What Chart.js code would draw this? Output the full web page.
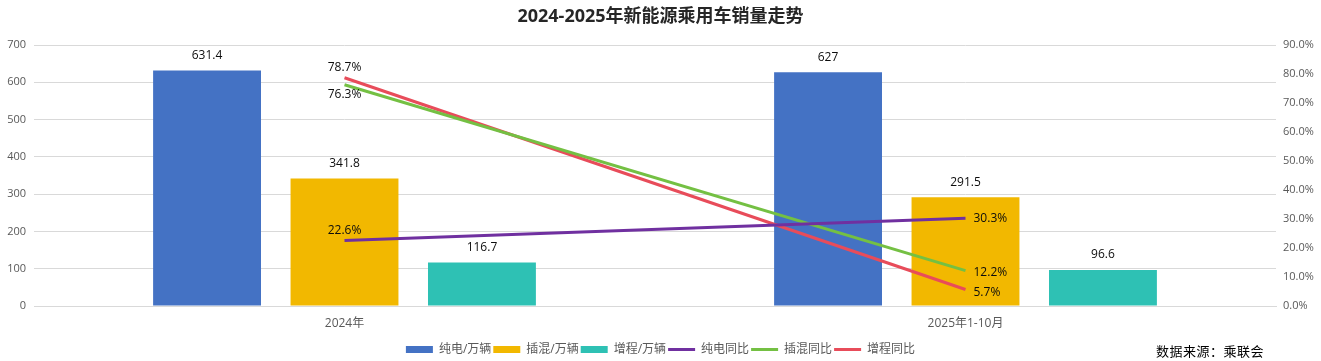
<!DOCTYPE html>
<html>
<head>
<meta charset="utf-8">
<script src="https://cdn.jsdelivr.net/npm/chart.js@4.4.1/dist/chart.umd.min.js"></script>
<style>
  html, body { margin: 0; padding: 0; background: #ffffff; }
  #wrap { width: 1321px; height: 361px; position: relative; }
</style>
</head>
<body>
<div id="wrap"><canvas id="c" width="1321" height="361"></canvas></div>
<script>
// ---- data ----
const categories = ['2024年', '2025年1-10月'];
const bevSales = [631.4, 627];      // 纯电/万辆
const phevSales = [341.8, 291.5];   // 插混/万辆
const erevSales = [116.7, 96.6];    // 增程/万辆
const bevYoY = [22.6, 30.3];        // 纯电同比 (%)
const phevYoY = [76.3, 12.2];       // 插混同比 (%)
const erevYoY = [78.7, 5.7];        // 增程同比 (%)
const titleText = '2024-2025年新能源乘用车销量走势';
const sourceText = '数据来源：乘联会';

const FONT = "'Open Sans', 'Noto Sans CJK SC', sans-serif";

const labelPlugin = {
  id: 'valueLabels',
  afterDatasetsDraw(chart) {
    const ctx = chart.ctx;
    ctx.save();
    ctx.font = '12px ' + FONT;
    ctx.fillStyle = '#0d0d0d';
    chart.data.datasets.forEach((ds, di) => {
      const meta = chart.getDatasetMeta(di);
      if (meta.hidden) return;
      meta.data.forEach((el, i) => {
        const v = ds.data[i];
        if (ds.type === 'bar') {
          ctx.textAlign = 'center';
          ctx.textBaseline = 'middle';
          ctx.fillText(String(v), el.x, el.y - 15);
        } else {
          const pos = ds.labelPos[i];
          const txt = v.toFixed(1) + '%';
          if (pos === 'top') {
            ctx.textAlign = 'center'; ctx.textBaseline = 'middle';
            ctx.fillText(txt, el.x, el.y - 10);
          } else if (pos === 'bottom') {
            ctx.textAlign = 'center'; ctx.textBaseline = 'middle';
            ctx.fillText(txt, el.x, el.y + 10);
          } else {
            ctx.textAlign = 'left'; ctx.textBaseline = 'middle';
            ctx.fillText(txt, el.x + 8, el.y + (ds.labelDy ? ds.labelDy[i] : 0));
          }
        }
      });
    });
    ctx.restore();
  }
};

const sourcePlugin = {
  id: 'sourceText',
  afterDraw(chart) {
    const ctx = chart.ctx;
    ctx.save();
    ctx.font = '13px ' + FONT;
    ctx.fillStyle = '#000000';
    ctx.textAlign = 'left';
    ctx.textBaseline = 'middle';
    try { ctx.letterSpacing = '0.5px'; } catch (e) {}
    ctx.fillText(sourceText, 1156, 352);
    ctx.restore();
  }
};

const lineDs = (label, data, color, labelPos, labelDy) => ({
  type: 'line', label, data, yAxisID: 'y1',
  borderColor: color, backgroundColor: color,
  borderWidth: 3, pointRadius: 0, pointHoverRadius: 0,
  tension: 0, fill: false, order: 0,
  labelPos, labelDy
});
const barDs = (label, data, color) => ({
  type: 'bar', label, data, yAxisID: 'y',
  backgroundColor: color, borderWidth: 0, order: 1,
  categoryPercentage: 0.664, barPercentage: 0.785
});

new Chart(document.getElementById('c'), {
  data: {
    labels: categories,
    datasets: [
      barDs('纯电/万辆', bevSales, '#4472C4'),
      barDs('插混/万辆', phevSales, '#F2B800'),
      barDs('增程/万辆', erevSales, '#2EC1B4'),
      lineDs('纯电同比', bevYoY, '#7030A0', ['top', 'right']),
      lineDs('插混同比', phevYoY, '#74C043', ['bottom', 'right'], [0, 2]),
      lineDs('增程同比', erevYoY, '#E84C5A', ['top', 'right'], [0, 3])
    ]
  },
  options: {
    responsive: false,
    animation: false,
    devicePixelRatio: 1,
    layout: { padding: { left: 0, right: 0, top: 0, bottom: 1.5 } },
    plugins: {
      tooltip: { enabled: false },
      title: {
        display: true,
        text: titleText,
        color: '#262626',
        font: { family: FONT, size: 18, weight: 'bold', lineHeight: 1.2 },
        padding: { top: 6, bottom: 17.4 }
      },
      legend: {
        position: 'bottom',
        maxHeight: 18,
        labels: {
          usePointStyle: true,
          pointStyleWidth: 27,
          boxHeight: 7,
          padding: 2,
          color: '#595959',
          font: { family: FONT, size: 12 },
          sort: (a, b) => a.datasetIndex - b.datasetIndex,
          generateLabels(chart) {
            return chart.data.datasets.map((ds, i) => ({
              text: ds.label,
              datasetIndex: i,
              fillStyle: ds.type === 'bar' ? ds.backgroundColor : ds.borderColor,
              strokeStyle: ds.type === 'bar' ? ds.backgroundColor : ds.borderColor,
              lineWidth: ds.type === 'bar' ? 0 : 3,
              pointStyle: ds.type === 'bar' ? 'rect' : 'line',
              fontColor: '#595959',
              hidden: false
            }));
          }
        }
      }
    },
    scales: {
      x: {
        grid: { display: false, drawTicks: false },
        border: { display: true, color: '#D9D9D9', width: 1 },
        ticks: { color: '#595959', font: { family: FONT, size: 12 }, padding: 10 },
        afterFit(s) { s.height = 35.5; }
      },
      y: {
        position: 'left',
        min: 0, max: 700,
        ticks: { stepSize: 100, color: '#595959', font: { family: FONT, size: 11 }, padding: 8 },
        grid: { color: '#D9D9D9', drawTicks: false, lineWidth: 1 },
        border: { display: false },
        afterFit(s) { s.width = 34; }
      },
      y1: {
        position: 'right',
        min: 0, max: 90,
        ticks: {
          stepSize: 10, color: '#595959', font: { family: FONT, size: 11 }, padding: 7,
          callback: v => Number(v).toFixed(1) + '%'
        },
        grid: { display: false, drawTicks: false },
        border: { display: false },
        afterFit(s) { s.width = 45; }
      }
    }
  },
  plugins: [labelPlugin, sourcePlugin]
});
</script>
</body>
</html>
